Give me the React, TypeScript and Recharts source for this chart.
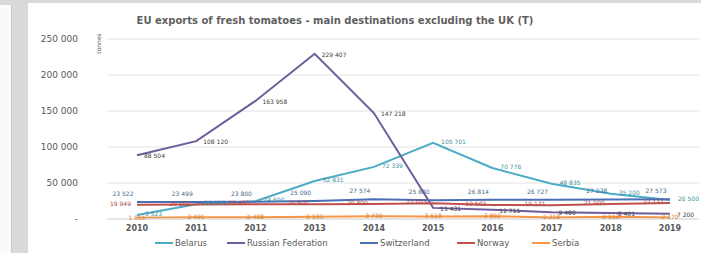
import { LineChart, Line, XAxis, YAxis, CartesianGrid, LabelList } from "recharts"

const years = ["2010", "2011", "2012", "2013", "2014", "2015", "2016", "2017", "2018", "2019"]

const belarus = [5523, 20576, 24600, 52831, 72339, 105701, 70776, 48835, 35200, 26500]
const russia = [88504, 108120, 163958, 229407, 147218, 15431, 12711, 9480, 8401, 7200]
const switzerland = [23522, 23499, 23800, 25090, 27574, 25880, 26814, 26727, 27238, 27573]
const norway = [19949, 20100, 20400, 20600, 20800, 22023, 19502, 19171, 21000, 22171]
const serbia = [1851, 2491, 2488, 3133, 3730, 3518, 3892, 2218, 3113, 2170]

const yTicks = [0, 50000, 100000, 150000, 200000, 250000]

const data = years.map((year, i) => ({
  year,
  belarus: belarus[i],
  russia: russia[i],
  switzerland: switzerland[i],
  norway: norway[i],
  serbia: serbia[i],
}))

const series = [
  { key: "belarus", name: "Belarus", color: "#4bacc6", label: "#3f8f9f" },
  { key: "russia", name: "Russian Federation", color: "#6e5c9c", label: "#404040" },
  { key: "switzerland", name: "Switzerland", color: "#4a6fb5", label: "#4a6a8a" },
  { key: "norway", name: "Norway", color: "#c0504d", label: "#b04a48" },
  { key: "serbia", name: "Serbia", color: "#f79646", label: "#d88030" },
]

const fmt = (v: number) => (v === 0 ? "-" : v.toLocaleString("en-US").replace(/,/g, " "))

const font = "'DejaVu Sans', sans-serif"

// label placement per series, relative to the point
const offsets: Record<string, { dx: number; dy: number; anchor: string }> = {
  belarus: { dx: 8, dy: 1, anchor: "start" },
  russia: { dx: 7, dy: 3, anchor: "start" },
  switzerland: { dx: -14, dy: -6, anchor: "middle" },
  norway: { dx: -6, dy: 1, anchor: "end" },
  serbia: { dx: 0, dy: 2, anchor: "middle" },
}

function makeLabel(key: string, color: string) {
  const o = offsets[key]
  return (props: any) => {
    const { x, y, value } = props
    return (
      <text x={x + o.dx} y={y + o.dy} textAnchor={o.anchor} fontSize={6} fill={color} fontFamily={font}>
        {fmt(value)}
      </text>
    )
  }
}

export default function App() {
  return (
    <div style={{ position: "fixed", left: 0, top: 0, width: 701, height: 253, background: "#d9d9d9", overflow: "hidden" }}>
      <div style={{ position: "absolute", left: 0, top: 5, width: 11, height: 248, background: "#fafafa", borderRight: "1px solid #c8c8c8" }} />
      <div style={{ position: "absolute", left: 28, top: 3, width: 673, height: 250, background: "#ffffff" }}>
        <div
          style={{
            position: "absolute",
            left: 87,
            top: 12,
            width: 440,
            textAlign: "center",
            fontFamily: font,
            fontSize: 10,
            fontWeight: "bold",
            color: "#5f5f5f",
            whiteSpace: "nowrap",
          }}
        >
          EU exports of fresh tomatoes - main destinations excluding the UK (T)
        </div>
        <div
          style={{
            position: "absolute",
            left: 60,
            top: 37,
            fontFamily: font,
            fontSize: 6,
            color: "#595959",
            transform: "rotate(-90deg)",
            transformOrigin: "center",
          }}
        >
          tonnes
        </div>
        <LineChart width={671} height={250} data={data} margin={{ top: 36, right: 0, left: 0, bottom: 4 }}>
          <CartesianGrid vertical={false} stroke="#e3e3e3" />
          <XAxis
            dataKey="year"
            height={30}
            padding={{ left: 30, right: 29 }}
            tickLine={false}
            axisLine={{ stroke: "#d9d9d9" }}
            tickSize={0}
            tickMargin={6}
            tick={{ fontSize: 8, fontWeight: "bold", fill: "#595959", fontFamily: font }}
          />
          <YAxis
            width={79}
            domain={[0, 250000]}
            ticks={yTicks}
            tickFormatter={fmt}
            tickLine={false}
            axisLine={false}
            tickSize={0}
            tickMargin={29}
            tick={{ fontSize: 9, fill: "#595959", fontFamily: font }}
          />
          {series.map((s) => (
            <Line
              key={s.key}
              dataKey={s.key}
              name={s.name}
              stroke={s.color}
              strokeWidth={2}
              dot={false}
              isAnimationActive={false}
            >
              <LabelList dataKey={s.key} content={makeLabel(s.key, s.label)} />
            </Line>
          ))}
        </LineChart>
        <div style={{ position: "absolute", left: 0, top: 235, width: 671, height: 12, fontFamily: font, fontSize: 8.5, color: "#595959" }}>
          {series.map((s, i) => {
            const lefts = [127, 199, 332, 429, 504]
            return (
              <div key={s.key} style={{ position: "absolute", left: lefts[i], top: 0, display: "flex", alignItems: "center", whiteSpace: "nowrap" }}>
                <span style={{ display: "inline-block", width: 18, height: 2, background: s.color, marginRight: 2 }} />
                <span>{s.name}</span>
              </div>
            )
          })}
        </div>
      </div>
    </div>
  )
}
